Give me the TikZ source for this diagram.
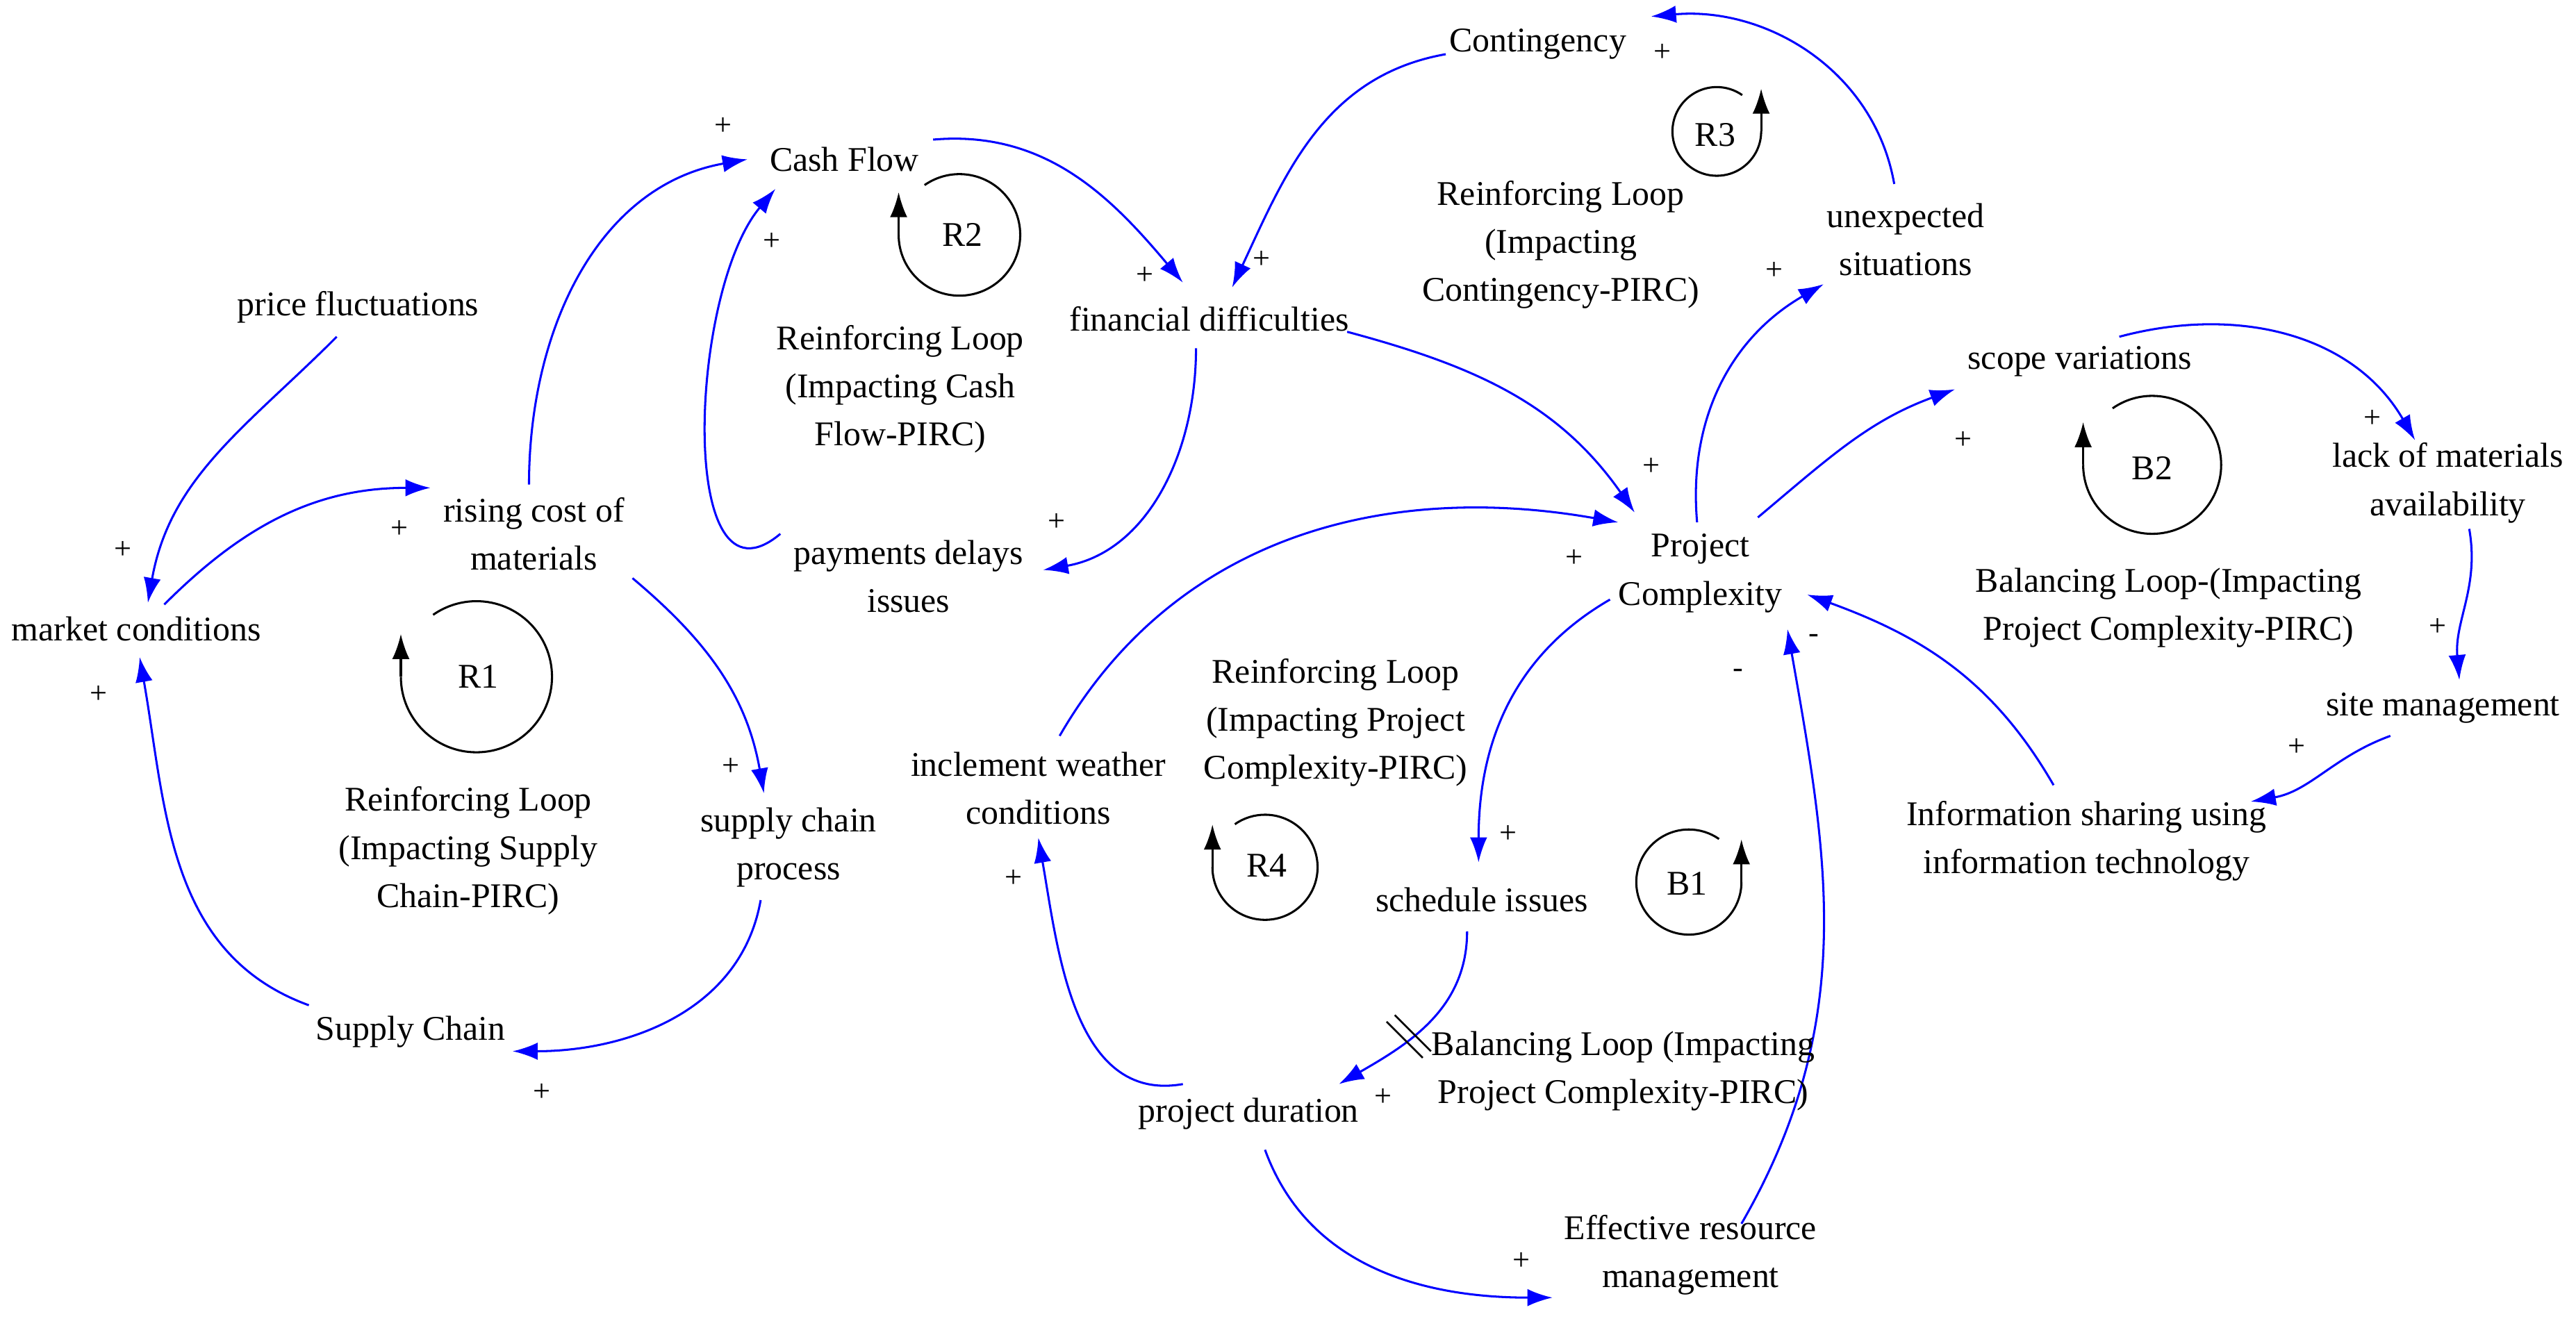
\documentclass[tikz,border=0pt]{standalone}
\usepackage{fontspec}
\setmainfont{Liberation Serif}
\usetikzlibrary{arrows.meta}
\begin{document}
\begin{tikzpicture}[x=0.03cm,y=-0.03cm,
  v/.style={font=\fontsize{18}{25}\selectfont,align=center,inner sep=1pt},
  lt/.style={font=\fontsize{18}{25}\selectfont,align=center},
  pol/.style={font=\fontsize{16}{18}\selectfont,inner sep=0pt},
  c/.style={draw=blue,line width=1.1pt,-{Latex[length=13pt,width=9pt]}},
  lp/.style={draw=black,line width=1.1pt},
  lpa/.style={draw=black,line width=1.1pt,-{Latex[length=13pt,width=9pt]}}]
\useasboundingbox (0,0) rectangle (1568,803);
% variables
\node[v] (cont) at (936,27) {Contingency};
\node[v] (cash) at (514,97) {Cash Flow};
\node[v] (price) at (218,187) {price fluctuations};
\node[v] (fin) at (736,194) {financial difficulties};
\node[v] (unex) at (1160,146) {unexpected\\situations};
\node[v] (scope) at (1266,220) {scope variations};
\node[v] (rise) at (325,325) {rising cost of\\materials};
\node[v] (mkt) at (83,383) {market conditions};
\node[v] (pay) at (553,351) {payments delays\\issues};
\node[v] (pc) at (1035,349) {Project\\Complexity};
\node[v] (lack) at (1490,294) {lack of materials\\availability};
\node[v] (site) at (1487,431) {site management};
\node[v] (info) at (1270,512) {Information sharing using\\information technology};
\node[v] (incl) at (632,480) {inclement weather\\conditions};
\node[v] (scp) at (480,516) {supply chain\\process};
\node[v] (sched) at (902,548) {schedule issues};
\node[v] (sc) at (250,628) {Supply Chain};
\node[v] (dur) at (760,678) {project duration};
\node[v] (eff) at (1029,764) {Effective resource\\management};
% connectors
\coordinate (a1) at (205,205); \coordinate (b1) at (90,367);
\draw[c] (a1) to[out=225,in=80] (b1);
\coordinate (a2) at (100,368); \coordinate (b2) at (262,297);
\draw[c] (a2) to[out=45,in=180] (b2);
\coordinate (a3) at (322,295); \coordinate (b3) at (455,97);
\draw[c] (a3) to[out=90,in=190] (b3);
\coordinate (a4) at (188,612); \coordinate (b4) at (85,400);
\draw[c] (a4) to[out=160,in=280] (b4);
\coordinate (a5) at (385,352); \coordinate (b5) at (465,483);
\draw[c] (a5) to[out=-40,in=100] (b5);
\coordinate (a6) at (463,548); \coordinate (b6) at (312,640);
\draw[c] (a6) to[out=-100,in=0] (b6);
\coordinate (a7) at (568,85); \coordinate (b7) at (720,172);
\draw[c] (a7) to[out=5,in=130] (b7);
\coordinate (a8) at (728,212); \coordinate (b8) at (635,347);
\draw[c] (a8) to[out=-90,in=10] (b8);
\coordinate (a9) at (475,325); \coordinate (b9) at (472,115);
\draw[c] (a9) to[out=220,in=230] (b9);
\coordinate (a10) at (1153,112); \coordinate (b10) at (1005,10);
\draw[c] (a10) to[out=100,in=5] (b10);
\coordinate (a11) at (880,33); \coordinate (b11) at (750,175);
\draw[c] (a11) to[out=190,in=65] (b11);
\coordinate (a12) at (820,202); \coordinate (b12) at (995,312);
\draw[c] (a12) to[out=-15,in=125] (b12);
\coordinate (a13) at (1033,318); \coordinate (b13) at (1110,173);
\draw[c] (a13) to[out=95,in=210] (b13);
\coordinate (a14) at (1070,315); \coordinate (b14) at (1190,237);
\draw[c] (a14) to[out=40,in=200] (b14);
\coordinate (a15) at (1290,205); \coordinate (b15) at (1470,268);
\draw[c] (a15) to[out=15,in=120] (b15);
\coordinate (a16) at (1503,322); \coordinate (b16) at (1497,414);
\draw[c] (a16) to[out=-80,in=95] (b16);
\coordinate (a17) at (1455,448); \coordinate (b17) at (1370,488);
\draw[c] (a17) to[out=200,in=10] (b17);
\coordinate (a18) at (1250,478); \coordinate (b18) at (1100,362);
\draw[c] (a18) to[out=120,in=-20] (b18);
\coordinate (a19) at (980,365); \coordinate (b19) at (900,525);
\draw[c] (a19) to[out=210,in=90] (b19);
\coordinate (a20) at (893,567); \coordinate (b20) at (815,660);
\draw[c] (a20) to[out=-90,in=30] (b20);
\draw[line width=1pt] (844,622)--(866,644) (849,618)--(871,640);
\coordinate (a21) at (720,660); \coordinate (b21) at (632,510);
\draw[c] (a21) to[out=190,in=-80] (b21);
\coordinate (a22) at (645,448); \coordinate (b22) at (985,318);
\draw[c] (a22) to[out=60,in=170] (b22);
\coordinate (a23) at (770,700); \coordinate (b23) at (945,790);
\draw[c] (a23) to[out=-70,in=180] (b23);
\coordinate (a24) at (1060,745); \coordinate (b24) at (1088,383);
\draw[c] (a24) to[out=60,in=-80] (b24);
% polarities
\foreach \x/\y in {440/77,470/147,75/335,243/322,60/423,445/467,330/665,697/168,768/158,643/318,1012/32,1080/165,1005/284,958/340,1195/268,1444/255,1484/382,1398/455,918/508,617/535,842/668,926/768}
  \node[pol] at (\x,\y) {+};
\node[pol] at (1058,410) {-};
\node[pol] at (1104,389) {-};
% loops
\foreach \cx/\cy/\r in {290/412/46, 584/143/37, 1310/283/42, 770/528/32}{
  \draw[lp] (\cx,\cy) ++(180:\r) arc[start angle=180,end angle=-125,radius=\r];
  \draw[lpa] (\cx,\cy) ++(180:\r) -- ++(0,-26);
}
\foreach \cx/\cy/\r in {1045/80/27, 1028/537/32}{
  \draw[lp] (\cx,\cy) ++(0:\r) arc[start angle=0,end angle=305,radius=\r];
  \draw[lpa] (\cx,\cy) ++(0:\r) -- ++(0,-26);
}
\node[lt] (r1) at (291,412) {R1};
\node[lt] (r2) at (586,143) {R2};
\node[lt] (r3) at (1044,82) {R3};
\node[lt] (b2) at (1310,285) {B2};
\node[lt] (r4) at (771,527) {R4};
\node[lt] (bb1) at (1027,538) {B1};
\node[lt] at (285,518) {Reinforcing Loop\\(Impacting Supply\\Chain-PIRC)};
\node[lt] at (548,237) {Reinforcing Loop\\(Impacting Cash\\Flow-PIRC)};
\node[lt] at (950,149) {Reinforcing Loop\\(Impacting\\Contingency-PIRC)};
\node[lt] at (1320,370) {Balancing Loop-(Impacting\\Project Complexity-PIRC)};
\node[lt] at (813,440) {Reinforcing Loop\\(Impacting Project\\Complexity-PIRC)};
\node[lt] at (988,652) {Balancing Loop (Impacting\\Project Complexity-PIRC)};
\end{tikzpicture}
\end{document}
